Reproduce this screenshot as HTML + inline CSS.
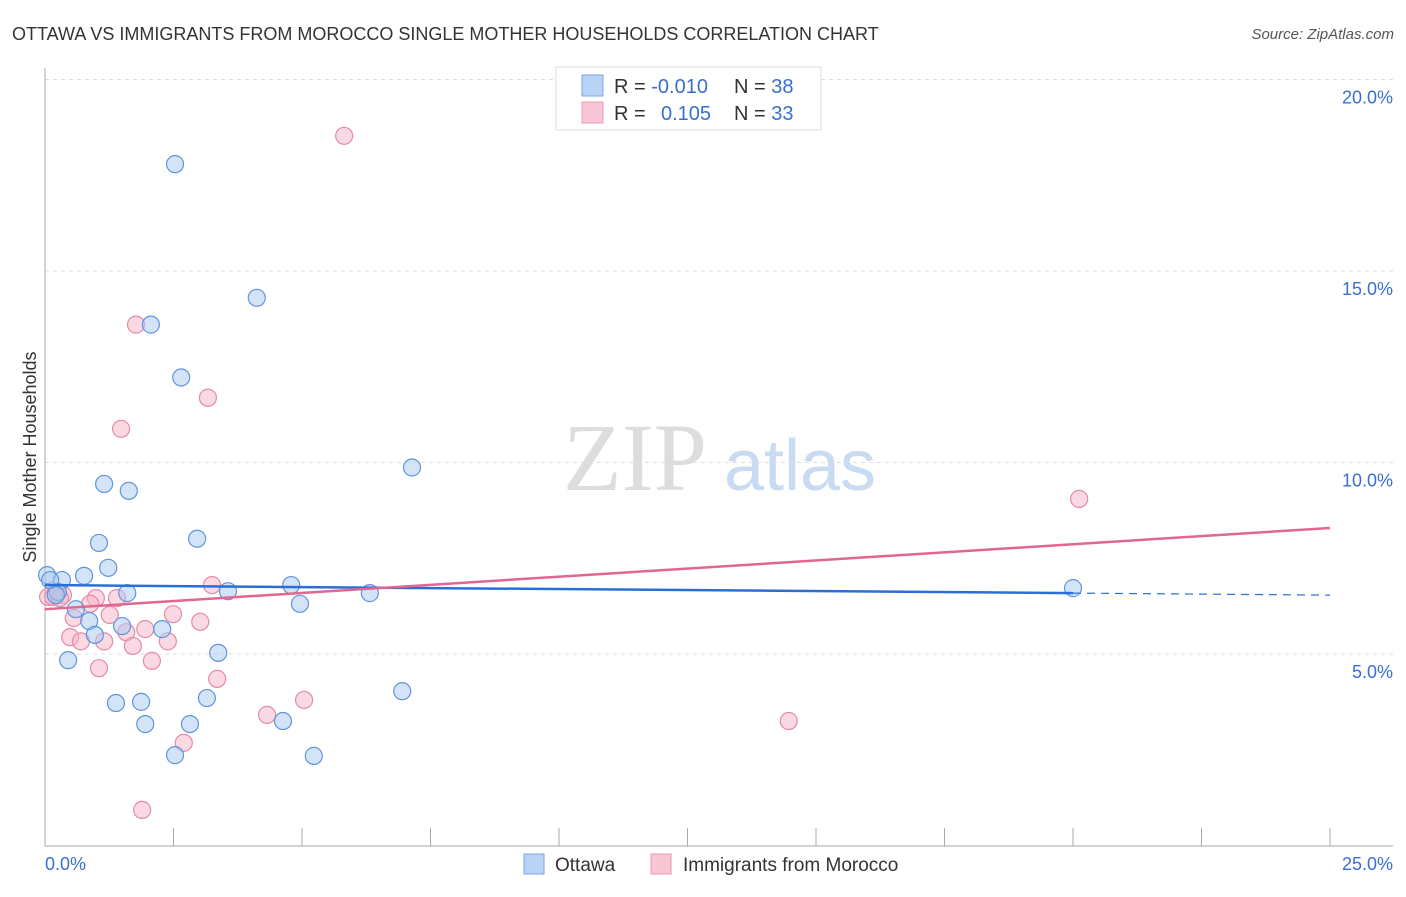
<!DOCTYPE html>
<html><head><meta charset="utf-8">
<style>
body{margin:0;background:#fff;font-family:"Liberation Sans",sans-serif;}
svg text{font-family:"Liberation Sans",sans-serif;}
</style></head>
<body>
<svg id="chart" width="1406" height="892">
<text x="12" y="40" font-size="18" fill="#333">OTTAWA VS IMMIGRANTS FROM MOROCCO SINGLE MOTHER HOUSEHOLDS CORRELATION CHART</text>
<text x="1394" y="39" font-size="15" fill="#555" font-style="italic" text-anchor="end">Source: ZipAtlas.com</text>
<text x="36" y="457" font-size="18" fill="#333" text-anchor="middle" transform="rotate(-90 36 457)">Single Mother Households</text>
<g>
<text x="635" y="490" font-size="96" fill="#ddd" font-family="Liberation Serif" text-anchor="middle" style="font-family:'Liberation Serif',serif">ZIP</text>
<text x="800" y="490" font-size="72" fill="#c9dbf2" text-anchor="middle">atlas</text>
</g>
<g id="grid"></g>
<g id="axes"></g>
<g id="marks"></g>
<g>
<rect x="556" y="67" width="265" height="63" fill="#fff" stroke="#ddd"/>
<rect x="582" y="75" width="21" height="21" fill="#b8d3f5" stroke="#7aa6e0"/>
<rect x="582" y="102" width="21" height="21" fill="#f9c6d5" stroke="#ec9ab3"/>
<text x="614" y="93" font-size="20" fill="#333">R = <tspan fill="#3a6fd0">-0.010</tspan></text>
<text x="734" y="93" font-size="20" fill="#333">N = <tspan fill="#3a6fd0">38</tspan></text>
<text x="614" y="120" font-size="20" fill="#333">R = </text>
<text x="661" y="120" font-size="20" fill="#3a6fd0">0.105</text>
<text x="734" y="120" font-size="20" fill="#333">N = <tspan fill="#3a6fd0">33</tspan></text>
</g>
<g>
<rect x="524" y="854" width="20" height="20" fill="#b8d3f5" stroke="#7aa6e0"/>
<text x="555" y="871" font-size="19" fill="#333">Ottawa</text>
<rect x="651" y="854" width="20" height="20" fill="#f9c6d5" stroke="#ec9ab3"/>
<text x="683" y="871" font-size="19" fill="#333">Immigrants from Morocco</text>
</g>
</svg>
<script>
const xTicks=[0,2.5,5,7.5,10,12.5,15,17.5,20,22.5,25];
const yTicks=[5,10,15,20];
const yTickLabels=["5.0%","10.0%","15.0%","20.0%"];
const ottawaX=[2.53,4.12,2.06,2.65,7.14,1.15,1.63,2.96,1.05,1.23,0.76,0.04,0.33,4.79,3.56,1.60,6.32,20.0,0.25,4.96,0.60,0.86,1.50,2.28,0.97,3.37,0.45,6.95,3.15,1.38,1.87,1.95,2.82,4.63,2.53,5.23,0.10,0.21];
const ottawaY=[17.79,14.30,13.60,12.22,9.87,9.44,9.26,8.01,7.90,7.25,7.04,7.06,6.93,6.80,6.64,6.59,6.59,6.72,6.62,6.31,6.17,5.86,5.73,5.65,5.50,5.03,4.84,4.03,3.85,3.72,3.75,3.17,3.17,3.25,2.36,2.34,6.93,6.54];
const moroccoX=[5.82,1.77,3.17,1.48,20.12,3.25,0.21,0.35,0.06,0.99,1.40,0.88,1.26,2.49,3.02,0.56,1.58,1.95,0.49,0.70,2.39,1.15,1.71,2.08,1.05,3.35,5.04,4.32,14.47,2.70,1.89,0.16,0.29];
const moroccoY=[18.53,13.60,11.69,10.88,9.05,6.80,6.62,6.54,6.49,6.46,6.46,6.31,6.02,6.04,5.84,5.94,5.57,5.65,5.44,5.33,5.33,5.33,5.21,4.82,4.63,4.35,3.80,3.41,3.25,2.68,0.93,6.49,6.46];
const ottawaTrend=[6.80,-0.0105];
const moroccoTrend=[6.17,0.0848];
const ottawaLastX=20;

const X0=45,X1=1330,Y0=845.5,YS=38.3;
const sx=v=>X0+(v/25)*(X1-X0);
const sy=v=>Y0-v*YS;
const NS="http://www.w3.org/2000/svg";
function mk(tag,attrs,parent){const e=document.createElementNS(NS,tag);for(const k in attrs)e.setAttribute(k,attrs[k]);parent.appendChild(e);return e;}
const grid=document.getElementById('grid'),axes=document.getElementById('axes'),marks=document.getElementById('marks');
yTicks.forEach((t,i)=>{
 const l=mk('line',{x1:X0,x2:1393,y1:sy(t),y2:sy(t),stroke:'#ddd','stroke-dasharray':'4,4'},grid);
 
 
 const tx=mk('text',{x:1393,y:sy(t)+24,'font-size':18,fill:'#3a6fd0','text-anchor':'end'},axes);
 tx.textContent=yTickLabels[i];
 
 
});
const ax=mk('line',{x1:X0,x2:X0,y1:68,y2:846,stroke:'#aaa'},axes);


const bx=mk('line',{x1:X0,x2:1393,y1:846,y2:846,stroke:'#aaa'},axes);


xTicks.forEach(t=>{
 const l=mk('line',{x1:sx(t),x2:sx(t),y1:828,y2:846,stroke:'#aaa'},axes);
 
 
});
const xl0=mk('text',{x:45,y:870,'font-size':18,fill:'#3a6fd0'},axes);xl0.textContent='0.0%';


const xl1=mk('text',{x:1393,y:870,'font-size':18,fill:'#3a6fd0','text-anchor':'end'},axes);xl1.textContent='25.0%';



function dots(xs,ys,fill,stroke,name){
 xs.forEach((x,i)=>{
  const c=mk('circle',{cx:sx(x),cy:sy(ys[i]),r:8.5,fill:fill,'fill-opacity':0.5,stroke:stroke,'stroke-width':1.2},marks);
  
  
 });
}
dots(moroccoX,moroccoY,'#f5b3c7','#e58aa6','morocco-point');
dots(ottawaX,ottawaY,'#a9c9f2','#5f95dc','ottawa-point');
const t1=mk('line',{x1:sx(0),y1:sy(ottawaTrend[0]),x2:sx(ottawaLastX),y2:sy(ottawaTrend[0]+ottawaTrend[1]*ottawaLastX),stroke:'#2b6fd6','stroke-width':2.5},marks);


const t1d=mk('line',{x1:sx(ottawaLastX),y1:sy(ottawaTrend[0]+ottawaTrend[1]*ottawaLastX),x2:sx(25),y2:sy(ottawaTrend[0]+ottawaTrend[1]*25),stroke:'#2b6fd6','stroke-width':1.2,'stroke-dasharray':'8,6'},marks);


const t2=mk('line',{x1:sx(0),y1:sy(moroccoTrend[0]),x2:sx(25),y2:sy(moroccoTrend[0]+moroccoTrend[1]*25),stroke:'#e2668f','stroke-width':2.5},marks);


</script>
</body></html>
